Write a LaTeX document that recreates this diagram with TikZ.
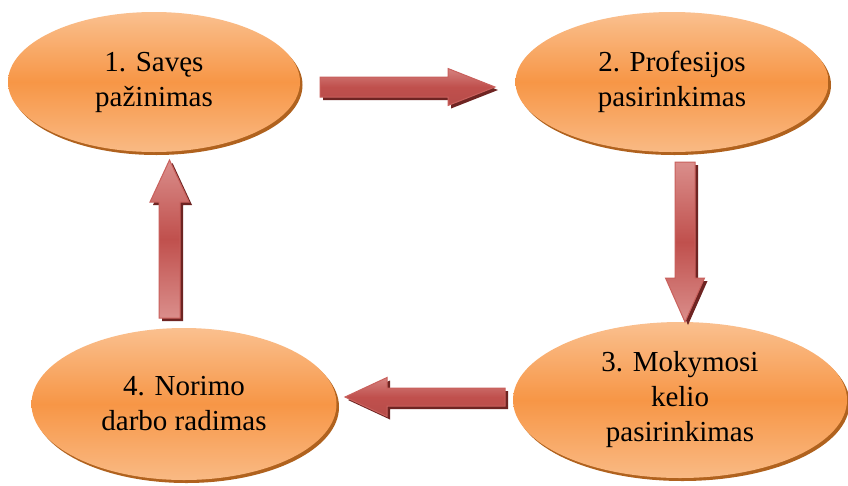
\documentclass[tikz,border=0pt]{standalone}
\usepackage{fontspec}
\setmainfont{Liberation Serif}
\usetikzlibrary{shapes.geometric,shadows}
\definecolor{orTop}{HTML}{FAC08F}
\definecolor{orMid}{HTML}{F79646}
\definecolor{orShadow}{HTML}{B0621E}
\definecolor{arRed}{HTML}{C0504D}
\definecolor{arLight}{HTML}{DA8E8B}
\definecolor{arEdge}{HTML}{C9605C}
\definecolor{arShadow}{HTML}{6E2422}
\tikzset{
  stage/.style={ellipse, inner sep=0pt, align=center,
    top color=orTop, bottom color=orTop!85!orMid, middle color=orMid,
    copy shadow={shadow xshift=2.5pt, shadow yshift=-3pt, fill=orShadow, draw=none},
    font=\fontsize{29}{35}\selectfont},
  vbody/.style={top color=arLight, bottom color=arLight, middle color=arRed, draw=arEdge, line width=1pt, line join=miter},
  hbody/.style={top color=arLight!80!arRed, bottom color=arRed!95!black, middle color=arRed, draw=arEdge, line width=1pt, line join=miter},
  arrowshadow/.style={fill=arShadow}
}
\newcommand\blockarrow[8]{% style, tail x, tail y, angle, length, shaft half, head half, head length
  \begin{scope}[shift={(#2,#3)}, xshift=3pt, yshift=-3pt, rotate=#4]
    \fill[arrowshadow] (0,-#6) -- (#5-#8,-#6) -- (#5-#8,-#7) -- (#5,0) -- (#5-#8,#7) -- (#5-#8,#6) -- (0,#6) -- cycle;
  \end{scope}
  \begin{scope}[shift={(#2,#3)}, rotate=#4]
    \path[#1] (0,-#6) -- (#5-#8,-#6) -- (#5-#8,-#7) -- (#5,0) -- (#5-#8,#7) -- (#5-#8,#6) -- (0,#6) -- cycle;
  \end{scope}
}
\begin{document}
\begin{tikzpicture}[x=1pt,y=-1pt]
\useasboundingbox[fill=white] (0,0) rectangle (848,485);

\node[stage, minimum width=292pt, minimum height=140pt] (s1) at (154,82) {1. Savęs\\pažinimas};
\node[stage, minimum width=313pt, minimum height=140pt] (s2) at (672,82) {2. Profesijos\\pasirinkimas};
\node[stage, minimum width=334pt, minimum height=156pt] (s3) at (680,400) {3. Mokymosi\\kelio\\pasirinkimas};
\node[stage, minimum width=305pt, minimum height=152pt] (s4) at (184,404) {4. Norimo\\darbo radimas};

% right arrow s1 -> s2
\blockarrow{hbody}{320}{87}{0}{175}{10}{18.5}{47}
% down arrow s2 -> s3
\blockarrow{vbody}{685}{162}{-90}{160}{10}{19.5}{44}
% left arrow s3 -> s4
\blockarrow{hbody}{505}{397}{180}{160}{9}{19.5}{42}
% up arrow s4 -> s1
\blockarrow{vbody}{169.5}{318}{90}{158}{10.5}{19.5}{42}
\end{tikzpicture}
\end{document}
